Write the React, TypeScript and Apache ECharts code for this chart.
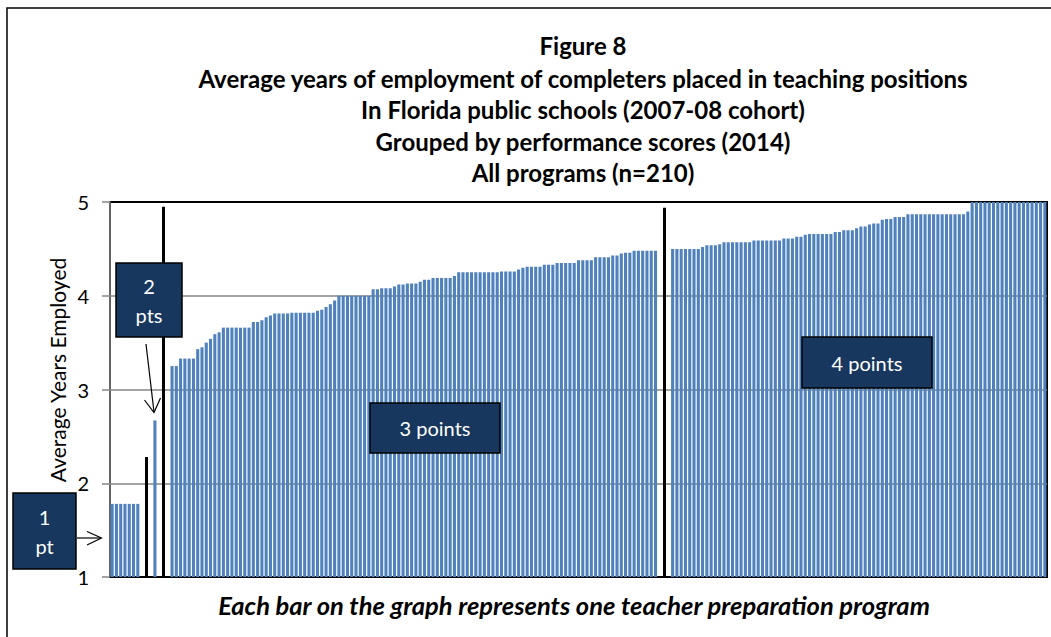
import React, { useEffect, useRef } from "react";
import * as echarts from "echarts";

// ---- Data ----
const onePt = [1.78, 1.78, 1.78, 1.78, 1.78, 1.78, 1.78];
const twoPt = [2.67];
const threePt = [
  3.25, 3.25,
  3.33, 3.33, 3.33, 3.33,
  3.43, 3.45, 3.5, 3.54, 3.59, 3.61,
  3.66, 3.66, 3.66, 3.66, 3.66, 3.66, 3.66,
  3.72, 3.72, 3.74, 3.77, 3.79,
  3.81, 3.81, 3.81, 3.81,
  3.82, 3.82, 3.82, 3.82, 3.82, 3.82,
  3.84, 3.85, 3.88, 3.91, 3.95,
  4.0, 4.0, 4.0, 4.0, 4.0, 4.0, 4.0, 4.0,
  4.07, 4.07,
  4.08, 4.08, 4.08,
  4.1,
  4.12, 4.12,
  4.13, 4.13, 4.13,
  4.15,
  4.17, 4.17,
  4.19, 4.19, 4.19, 4.19, 4.19,
  4.21,
  4.25, 4.25, 4.25, 4.25, 4.25, 4.25, 4.25, 4.25, 4.25, 4.25,
  4.26, 4.26, 4.26, 4.26,
  4.28, 4.3,
  4.31, 4.31, 4.31, 4.31,
  4.33, 4.33, 4.33,
  4.35, 4.35, 4.35, 4.35, 4.35,
  4.38, 4.38, 4.38, 4.38,
  4.41, 4.41, 4.41, 4.41,
  4.43, 4.43,
  4.45,
  4.46, 4.46,
  4.48, 4.48, 4.48, 4.48, 4.48, 4.48,
];
const fourPt = [
  4.5, 4.5, 4.5, 4.5, 4.5, 4.5, 4.5,
  4.52,
  4.54, 4.54, 4.54,
  4.55,
  4.57, 4.57, 4.57, 4.57, 4.57, 4.57, 4.57,
  4.59, 4.59, 4.59, 4.59, 4.59, 4.59, 4.59,
  4.61, 4.61, 4.61,
  4.63, 4.63,
  4.65,
  4.66, 4.66, 4.66, 4.66, 4.66, 4.66,
  4.68, 4.68,
  4.7, 4.7, 4.7,
  4.72,
  4.74, 4.74,
  4.76,
  4.77, 4.77,
  4.81,
  4.82, 4.82,
  4.84, 4.84, 4.84,
  4.87, 4.87, 4.87, 4.87, 4.87, 4.87, 4.87, 4.87, 4.87, 4.87, 4.87, 4.87, 4.87, 4.87,
  4.9,
  5, 5, 5, 5, 5, 5, 5, 5, 5, 5, 5, 5, 5, 5, 5, 5, 5, 5,
];
// heights of the black divider lines (years)
const dividerTops = [2.28, 4.95, 4.94];

const titleLines = [
  "Figure 8",
  "Average years of employment of completers placed in teaching positions",
  "In Florida public schools (2007-08 cohort)",
  "Grouped by performance scores (2014)",
  "All programs (n=210)",
];
const footerText = "Each bar on the graph represents one teacher preparation program";
const yAxisName = "Average Years Employed";
const groupLabels = ["1\npt", "2\npts", "3 points", "4 points"];

// ---- Build category slots (groups separated by 3 empty slots, divider in the middle) ----
const gap = [null, null, null];
const values: (number | null)[] = [
  ...onePt, ...gap, ...twoPt, ...gap, ...threePt, ...gap, ...fourPt,
];
const slots = values.map((_, i) => String(i + 1));
const dividerIdx = [
  onePt.length + 1,
  onePt.length + gap.length + twoPt.length + 1,
  onePt.length + gap.length + twoPt.length + gap.length + threePt.length + 1,
];

const FONT = "Lato, 'Open Sans', sans-serif";
const BOX = "#17375E";

function box(x: number, y: number, w: number, h: number, text: string) {
  return {
    type: "group",
    z: 100,
    children: [
      {
        type: "rect",
        z: 100,
        shape: { x, y, width: w, height: h },
        style: { fill: BOX, stroke: "#000", lineWidth: 1.5 },
      },
      {
        type: "text",
        z: 101,
        x: x + w / 2,
        y: y + h / 2,
        style: {
          text,
          fill: "#fff",
          fontSize: 20,
          fontFamily: FONT,
          textAlign: "center",
          textVerticalAlign: "middle",
          lineHeight: 29,
        },
      },
    ],
  };
}

export default function App() {
  const ref = useRef<HTMLDivElement>(null);
  useEffect(() => {
    if (!ref.current) return;
    const chart = echarts.init(ref.current, undefined, { renderer: "svg" });
    const titleY = [45, 78, 109.5, 141, 172];
    chart.setOption({
      animation: false,
      grid: {
        left: 110,
        top: 202,
        right: 4,
        bottom: 60,
        show: true,
        borderColor: "#000",
        borderWidth: 2,
        backgroundColor: "transparent",
      },
      xAxis: {
        type: "category",
        data: slots,
        axisLine: { show: true, lineStyle: { color: "#000", width: 1.5 } },
        axisTick: { show: false },
        axisLabel: { show: false },
        splitLine: { show: false },
      },
      yAxis: {
        type: "value",
        min: 1,
        max: 5,
        interval: 1,
        axisLine: { show: true, lineStyle: { color: "#868686", width: 1.5 } },
        axisTick: { show: true, length: 8, lineStyle: { color: "#868686", width: 1.5 } },
        axisLabel: { color: "#000", fontSize: 20, fontFamily: FONT, margin: 21 },
        splitLine: {
          show: true,
          showMinLine: false,
          showMaxLine: false,
          lineStyle: { color: "#868686", width: 1.5 },
        },
      },
      series: [
        {
          type: "bar",
          data: values,
          barCategoryGap: "28%",
          itemStyle: { color: "#4F81BD" },
          silent: true,
          markLine: {
            silent: true,
            symbol: "none",
            label: { show: false },
            lineStyle: { color: "#000", width: 3, type: "solid" },
            z: 10,
            data: dividerIdx.map((idx, k) => [
              { coord: [idx, 1] },
              { coord: [idx, dividerTops[k]] },
            ]),
          },
        },
      ],
      graphic: [
        {
          type: "rect",
          z: 100,
          shape: { x: 7, y: 8, width: 1200, height: 800 },
          style: { fill: "none", stroke: "#000", lineWidth: 1.5 },
          silent: true,
        },
        ...titleLines.map((t, i) => ({
          type: "text",
          z: 100,
          x: 583,
          y: titleY[i],
          style: {
            text: t,
            fill: "#000",
            fontSize: 24,
            fontWeight: "bold",
            fontFamily: FONT,
            textAlign: "center",
            textVerticalAlign: "middle",
          },
        })),
        {
          type: "text",
          z: 100,
          x: 574,
          y: 605,
          style: {
            text: footerText,
            fill: "#000",
            fontSize: 25.5,
            fontWeight: "bold",
            fontStyle: "italic",
            fontFamily: FONT,
            textAlign: "center",
            textVerticalAlign: "middle",
          },
        },
        {
          type: "text",
          z: 100,
          x: 57,
          y: 370,
          rotation: Math.PI / 2,
          style: {
            text: yAxisName,
            fill: "#000",
            fontSize: 21,
            fontFamily: FONT,
            textAlign: "center",
            textVerticalAlign: "middle",
          },
        },
        box(13, 493, 63, 76, groupLabels[0]),
        box(116, 263, 66, 74, groupLabels[1]),
        box(370, 403, 130, 50, groupLabels[2]),
        box(802, 337, 130, 51, groupLabels[3]),
        // arrow to the 1-point group
        { type: "line", z: 100, shape: { x1: 77, y1: 538, x2: 101, y2: 538 }, style: { stroke: "#000", lineWidth: 1.2 } },
        { type: "polyline", z: 100, shape: { points: [[87, 531.5], [101.5, 538], [87, 545]] }, style: { stroke: "#000", fill: "none", lineWidth: 1.2 } },
        // arrow to the 2-point bar
        { type: "line", z: 100, shape: { x1: 146, y1: 344, x2: 154, y2: 412 }, style: { stroke: "#000", lineWidth: 1.2 } },
        { type: "polyline", z: 100, shape: { points: [[144.5, 400], [154, 412.5], [160.5, 398]] }, style: { stroke: "#000", fill: "none", lineWidth: 1.2 } },
      ],
    });
    return () => chart.dispose();
  }, []);
  return (
    <div
      ref={ref}
      style={{ position: "absolute", left: 0, top: 0, width: 1051, height: 637, background: "#fff" }}
    />
  );
}
